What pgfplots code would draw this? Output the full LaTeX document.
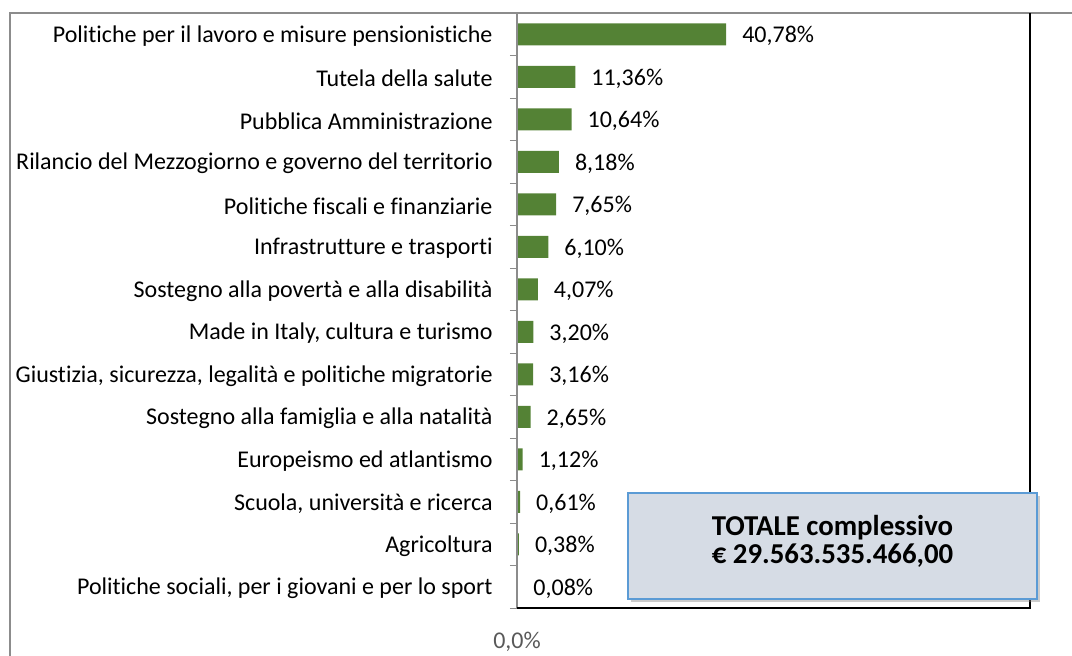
\documentclass[border=0pt]{standalone}
\usepackage{pgfplots}
\pgfplotsset{compat=1.18}
\usepackage{fontspec}
\setmainfont{Carlito}[Ligatures=NoCommon]
\usetikzlibrary{shadows}
\definecolor{barG}{RGB}{84,130,53}
\definecolor{frameG}{RGB}{140,140,140}
\definecolor{boxF}{RGB}{214,220,229}
\definecolor{boxB}{RGB}{91,155,213}
\definecolor{tickG}{RGB}{89,89,89}

\pgfplotstableread[col sep=comma]{
idx,val
0,40.78
1,11.36
2,10.64
3,8.18
4,7.65
5,6.10
6,4.07
7,3.20
8,3.16
9,2.65
10,1.12
11,0.61
12,0.38
13,0.08
}\spesa

\begin{document}
\begin{tikzpicture}
\useasboundingbox (0,0) rectangle (536pt,327.5pt);
% cornice esterna
\draw[frameG, line width=1pt] (5pt,-1pt) -- (5pt,321pt) -- (537pt,321pt);
\begin{axis}[
    at={(258.5pt,23.5pt)}, anchor=south west,
    scale only axis, width=256.5pt, height=297.5pt,
    xbar, bar width=11pt,
    xmin=0, xmax=100,
    ymin=-0.5, ymax=13.5, y dir=reverse,
    axis line style={draw=none},
    ytick={0,...,13},
    yticklabels={
      Politiche per il lavoro e misure pensionistiche,
      Tutela della salute,
      Pubblica Amministrazione,
      Rilancio del Mezzogiorno e governo del territorio,
      Politiche fiscali e finanziarie,
      Infrastrutture e trasporti,
      Sostegno alla povertà e alla disabilità,
      {Made in Italy, cultura e turismo},
      {Giustizia, sicurezza, legalità e politiche migratorie},
      Sostegno alla famiglia e alla natalità,
      Europeismo ed atlantismo,
      {Scuola, università e ricerca},
      Agricoltura,
      {Politiche sociali, per i giovani e per lo sport}},
    minor ytick={-0.5,0.5,...,13.5},
    major tick length=0pt, minor tick length=3.5pt,
    tick align=outside, ytick pos=left, xtick pos=bottom,
    minor tick style={frameG, line width=0.5pt},
    yticklabel style={font=\fontsize{12pt}{14pt}\selectfont, anchor=east, xshift=-8.7pt, yshift=-0.8pt, text=black},
    xtick={0}, xticklabel={0{,}0\%},
    xticklabel style={font=\fontsize{12pt}{14pt}\selectfont, text=tickG, yshift=-8.5pt},
    nodes near coords={\pgfmathprintnumber[fixed,fixed zerofill,precision=2,use comma,assume math mode=true]{\pgfplotspointmeta}\%},
    nodes near coords style={font=\fontsize{12pt}{14pt}\selectfont, anchor=west, xshift=4.5pt, yshift=-0.8pt, text=black},
    clip=false,
]
\addplot[draw=none, fill=barG] table[x=val, y=idx] {\spesa};
\draw[frameG, line width=0.8pt] (rel axis cs:0,0) -- (rel axis cs:0,1);
\draw[black, line width=0.8pt] (rel axis cs:0,0) -- (rel axis cs:1,0) -- (rel axis cs:1,1);
\end{axis}
% riquadro totale
\node[draw=boxB, line width=1.2pt, fill=boxF, minimum width=204.5pt, minimum height=53pt,
      drop shadow={shadow xshift=1.5pt, shadow yshift=-1.5pt, opacity=0.4}]
  at (416.25pt,54.5pt) {};
\node[align=center, font=\bfseries\fontsize{14.4pt}{14pt}\selectfont]
  at (416.25pt,57pt) {TOTALE complessivo\\€ 29.563.535.466,00};
\end{tikzpicture}
\end{document}
